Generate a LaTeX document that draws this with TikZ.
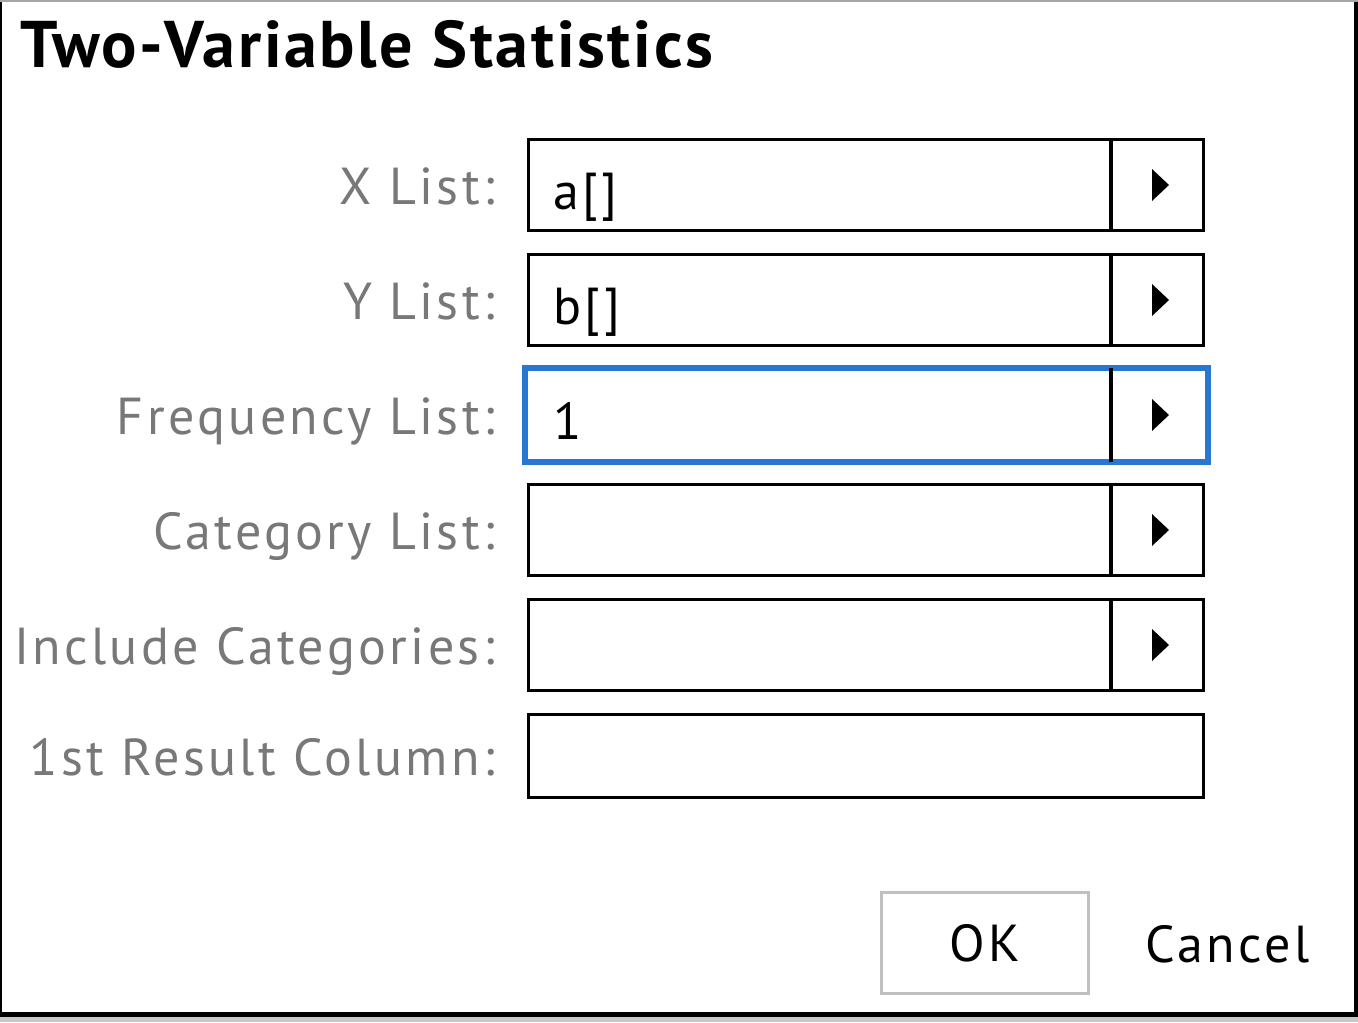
\documentclass[tikz,border=0pt]{standalone}
\usepackage{fontspec}
\newfontfamily\uifont[LetterSpace=6.5]{PT Sans}
\newfontfamily\titlefont[LetterSpace=4]{PT Sans}
\definecolor{labelgray}{RGB}{120,120,120}
\definecolor{focusblue}{RGB}{40,120,210}
\definecolor{btngray}{RGB}{192,192,192}
\definecolor{edgegray}{RGB}{200,200,200}
\begin{document}
\begin{tikzpicture}[
      x=0.5pt, y=-0.5pt,
      % the dialog texts:
      every node/.style={font=\uifont\fontsize{26}{30}\selectfont},
      label/.style={anchor=base east, text=labelgray, inner sep=0},
      value/.style={anchor=base west, inner sep=0},
      % the input fields:
      field/.style={draw, line width=1.6pt, minimum width=337.5pt, minimum height=45.5pt, inner sep=0},
      focus/.style={draw=focusblue, line width=3pt, minimum width=341.5pt, minimum height=47pt, inner sep=0},
      divider/.style={line width=1.6pt},
      button/.style={draw=btngray, line width=1.5pt, minimum width=103.5pt, minimum height=50.5pt, inner sep=0}
  ]
  \useasboundingbox (0,0) rectangle (1358,1022);

  %%%%%%%%%%%%%%%%%%%%%%%%%%%%%%%%%%%%%%%%%%%%%%%%%%%%%%%%
  % WINDOW FRAME
  %%%%%%%%%%%%%%%%%%%%%%%%%%%%%%%%%%%%%%%%%%%%%%%%%%%%%%%%
  \fill[white] (0,0) rectangle (1358,1022);
  \fill[edgegray] (0,1017) rectangle (1358,1022);
  \fill[gray!70] (0,0) rectangle (1358,2);
  \fill (0,2) rectangle (2,1017);
  \fill (1354,2) rectangle (1358,1017);
  \fill (0,1012) rectangle (1358,1017);

  % Title
  \node[anchor=base west, inner sep=0, font=\titlefont\bfseries\fontsize{33}{36}\selectfont]
    (title) at (20,68) {Two-Variable Statistics};

  % columns of the dividers and of the arrow heads
  \coordinate (div) at (1111,0);
  \coordinate (tri) at (1152,0);

  %%%%%%%%%%%%%%%%%%%%%%%%%%%%%%%%%%%%%%%%%%%%%%%%%%%%%%%%
  % (1) FIELDS
  %%%%%%%%%%%%%%%%%%%%%%%%%%%%%%%%%%%%%%%%%%%%%%%%%%%%%%%%
  \node[field] (xbox) at (866,185) {};
  \node[field] (ybox) at (866,300) {};
  \node[focus] (fbox) at (866,415) {};
  \node[field] (cbox) at (866,530) {};
  \node[field] (ibox) at (866,645) {};
  \node[field, minimum height=41.5pt] (rbox) at (866,756) {};

  \draw[divider] (xbox.north -| div) -- (xbox.south -| div);
  \draw[divider] (ybox.north -| div) -- (ybox.south -| div);
  \draw[divider, shorten <=1.5pt, shorten >=1.5pt] (fbox.north -| div) -- (fbox.south -| div);
  \draw[divider] (cbox.north -| div) -- (cbox.south -| div);
  \draw[divider] (ibox.north -| div) -- (ibox.south -| div);

  % arrow heads
  \fill (xbox.center -| tri) ++(0,-16) -- ++(17,16) -- ++(-17,16) -- cycle;
  \fill (ybox.center -| tri) ++(0,-16) -- ++(17,16) -- ++(-17,16) -- cycle;
  \fill (fbox.center -| tri) ++(0,-16) -- ++(17,16) -- ++(-17,16) -- cycle;
  \fill (cbox.center -| tri) ++(0,-16) -- ++(17,16) -- ++(-17,16) -- cycle;
  \fill (ibox.center -| tri) ++(0,-16) -- ++(17,16) -- ++(-17,16) -- cycle;

  %%%%%%%%%%%%%%%%%%%%%%%%%%%%%%%%%%%%%%%%%%%%%%%%%%%%%%%%
  % (2) LABELS AND VALUES
  %%%%%%%%%%%%%%%%%%%%%%%%%%%%%%%%%%%%%%%%%%%%%%%%%%%%%%%%
  \node[label] (xlab) at (495,204) {X List:};
  \node[label] (ylab) at (495,319) {Y List:};
  \node[label] (flab) at (495,434) {Frequency List:};
  \node[label] (clab) at (495,549) {Category List:};
  \node[label] (ilab) at (495,664) {Include Categories:};
  \node[label] (rlab) at (495,775) {1st Result Column:};

  \node[value] (xval) at (553,209) {a[]};
  \node[value] (yval) at (553,324) {b[]};
  \node[value] (fval) at (553,439) {1};

  %%%%%%%%%%%%%%%%%%%%%%%%%%%%%%%%%%%%%%%%%%%%%%%%%%%%%%%%
  % (3) BUTTONS
  %%%%%%%%%%%%%%%%%%%%%%%%%%%%%%%%%%%%%%%%%%%%%%%%%%%%%%%%
  \node[button] (ok) at (985,943) {OK};
  \node[value] (cancel) at (1145,962) {Cancel};

\end{tikzpicture}
\end{document}
